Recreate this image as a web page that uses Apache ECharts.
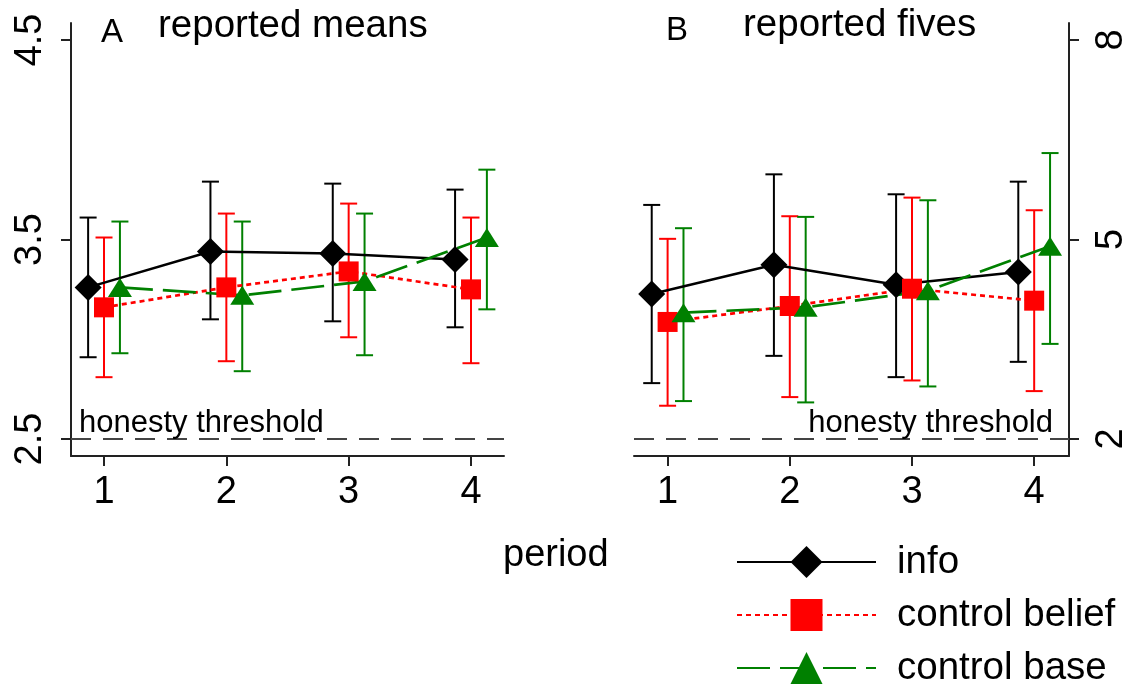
<!DOCTYPE html>
<html>
<head>
<meta charset="utf-8">
<script src="https://cdn.jsdelivr.net/npm/echarts@6/dist/echarts.min.js"></script>
<style>
  html, body { margin: 0; padding: 0; background: #fff; }
  #chart { width: 1129px; height: 690px; }
</style>
</head>
<body>
<div id="chart"></div>
<script>
const periods = [1, 2, 3, 4];
const seriesNames = ['info', 'control belief', 'control base'];

// panel A: reported means (point estimate, lower and upper CI)
const meansInfo = [3.26, 3.44, 3.43, 3.40];
const meansInfoLo = [2.91, 3.10, 3.09, 3.06];
const meansInfoHi = [3.61, 3.79, 3.78, 3.75];
const meansBelief = [3.16, 3.26, 3.34, 3.25];
const meansBeliefLo = [2.81, 2.89, 3.01, 2.88];
const meansBeliefHi = [3.51, 3.63, 3.68, 3.61];
const meansBase = [3.26, 3.22, 3.29, 3.51];
const meansBaseLo = [2.93, 2.84, 2.92, 3.15];
const meansBaseHi = [3.59, 3.59, 3.63, 3.85];

// panel B: reported fives
const fivesInfo = [4.18, 4.62, 4.32, 4.51];
const fivesInfoLo = [2.84, 3.25, 2.93, 3.16];
const fivesInfoHi = [5.52, 5.98, 5.68, 5.87];
const fivesBelief = [3.76, 4.00, 4.26, 4.08];
const fivesBeliefLo = [2.50, 2.63, 2.88, 2.72];
const fivesBeliefHi = [5.01, 5.35, 5.63, 5.44];
const fivesBase = [3.90, 3.98, 4.23, 4.90];
const fivesBaseLo = [2.57, 2.55, 2.79, 3.43];
const fivesBaseHi = [5.17, 5.34, 5.59, 6.30];

const meansTicks = [2.5, 3.5, 4.5];
const fivesTicks = [2, 5, 8];
const honestyMeans = 2.5;
const honestyFives = 2;

const FONT = '"Liberation Sans", Arial, sans-serif';
const colors = ['#000000', '#ff0000', '#008000'];
const dodge = [-0.13, 0, 0.13];
const lineStyles = [
  { width: 2.5, type: 'solid' },
  { width: 2.7, type: [5, 4] },
  { width: 2.7, type: [33, 10] }
];
const symbols = [
  { symbol: 'diamond', symbolSize: 27 },
  { symbol: 'rect', symbolSize: 20 },
  { symbol: 'triangle', symbolSize: [24, 19] }
];

function errRender(color) {
  return function (params, api) {
    const x = api.value(0);
    const lo = api.coord([x, api.value(1)]);
    const hi = api.coord([x, api.value(2)]);
    const cap = 8.5;
    const style = { stroke: color, lineWidth: 2 };
    return {
      type: 'group',
      children: [
        { type: 'line', shape: { x1: lo[0], y1: lo[1], x2: hi[0], y2: hi[1] }, style: style },
        { type: 'line', shape: { x1: lo[0] - cap, y1: lo[1], x2: lo[0] + cap, y2: lo[1] }, style: style },
        { type: 'line', shape: { x1: hi[0] - cap, y1: hi[1], x2: hi[0] + cap, y2: hi[1] }, style: style }
      ]
    };
  };
}

function panelSeries(idx, est, lo, hi) {
  const out = [];
  for (let s = 0; s < 3; s++) {
    const xs = periods.map(p => p + dodge[s]);
    // confidence interval caps (unnamed so the legend ignores them)
    out.push({
      type: 'custom',
      xAxisIndex: idx, yAxisIndex: idx,
      renderItem: errRender(colors[s]),
      encode: { x: 0, y: [1, 2] },
      data: xs.map((x, i) => [x, lo[s][i], hi[s][i]]),
      silent: true
    });
    out.push({
      type: 'line',
      name: seriesNames[s],
      xAxisIndex: idx, yAxisIndex: idx,
      symbol: symbols[s].symbol,
      symbolSize: symbols[s].symbolSize,
      showSymbol: true,
      lineStyle: { color: colors[s], width: lineStyles[s].width, type: lineStyles[s].type },
      itemStyle: { color: colors[s] },
      data: xs.map((x, i) => [x, est[s][i]])
    });
  }
  return out;
}

function honestySeries(idx, value, pos, dist) {
  return {
    type: 'line',
    xAxisIndex: idx, yAxisIndex: idx,
    data: [],
    markLine: {
      silent: true,
      symbol: 'none',
      lineStyle: { color: '#444', width: 2, type: [20, 12] },
      label: {
        show: true,
        position: pos,
        formatter: 'honesty threshold',
        fontSize: 31,
        fontFamily: FONT,
        color: '#000',
        distance: dist
      },
      data: [{ yAxis: value }]
    }
  };
}

const axisLine = { show: true, lineStyle: { color: '#222', width: 2 } };
const axisTick = { show: true, length: 10, lineStyle: { color: '#222', width: 2 } };
const labelFont = { fontSize: 38, fontFamily: FONT, color: '#000' };

const chart = echarts.init(document.getElementById('chart'));
chart.setOption({
  animation: false,
  backgroundColor: '#fff',
  textStyle: { fontFamily: FONT },
  grid: [
    { left: 71, right: 625, top: 23, bottom: 234, outerBoundsMode: 'none', containLabel: false },
    { left: 634, right: 60, top: 23, bottom: 234, outerBoundsMode: 'none', containLabel: false }
  ],
  xAxis: [
    {
      gridIndex: 0, type: 'value', min: 0.73, max: 4.27,
      axisLine: axisLine,
      axisTick: Object.assign({ customValues: periods }, axisTick),
      axisLabel: Object.assign({ customValues: periods, margin: 18 }, labelFont),
      splitLine: { show: false }
    },
    {
      gridIndex: 1, type: 'value', min: 0.725, max: 4.285,
      axisLine: axisLine,
      axisTick: Object.assign({ customValues: periods }, axisTick),
      axisLabel: Object.assign({ customValues: periods, margin: 18 }, labelFont),
      splitLine: { show: false }
    }
  ],
  yAxis: [
    {
      gridIndex: 0, type: 'value', min: 2.415, max: 4.585, position: 'left',
      axisLine: axisLine,
      axisTick: Object.assign({ customValues: meansTicks }, axisTick),
      axisLabel: Object.assign({ customValues: meansTicks, rotate: 90, margin: 21 }, labelFont),
      splitLine: { show: false }
    },
    {
      gridIndex: 1, type: 'value', min: 1.744, max: 8.256, position: 'right',
      axisLine: axisLine,
      axisTick: Object.assign({ customValues: fivesTicks }, axisTick),
      axisLabel: Object.assign({ customValues: fivesTicks, rotate: 90, margin: 24 }, labelFont),
      splitLine: { show: false }
    }
  ],
  legend: {
    orient: 'vertical',
    left: 731,
    top: 537,
    height: 150,
    itemWidth: 139,
    itemHeight: 40,
    itemGap: 13,
    data: seriesNames,
    textStyle: { fontSize: 38.5, lineHeight: 40, fontFamily: FONT, color: '#000', padding: [0, 0, 0, 16] }
  },
  graphic: [
    { type: 'text', left: 101, top: 16, style: { text: 'A', font: '33px ' + FONT, fill: '#000' } },
    { type: 'text', left: 158, top: 7, style: { text: 'reported means', font: '38.5px ' + FONT, fill: '#000' } },
    { type: 'text', left: 666, top: 14, style: { text: 'B', font: '33px ' + FONT, fill: '#000' } },
    { type: 'text', left: 743, top: 6, style: { text: 'reported fives', font: '38.5px ' + FONT, fill: '#000' } },
    { type: 'text', left: 503, top: 537, style: { text: 'period', font: '38px ' + FONT, fill: '#000' } }
  ],
  series: [
    honestySeries(0, honestyMeans, 'insideStartTop', [8, 0]),
    honestySeries(1, honestyFives, 'insideEndTop', [16, 0])
  ].concat(
    panelSeries(0,
      [meansInfo, meansBelief, meansBase],
      [meansInfoLo, meansBeliefLo, meansBaseLo],
      [meansInfoHi, meansBeliefHi, meansBaseHi]),
    panelSeries(1,
      [fivesInfo, fivesBelief, fivesBase],
      [fivesInfoLo, fivesBeliefLo, fivesBaseLo],
      [fivesInfoHi, fivesBeliefHi, fivesBaseHi])
  )
});
</script>
</body>
</html>
